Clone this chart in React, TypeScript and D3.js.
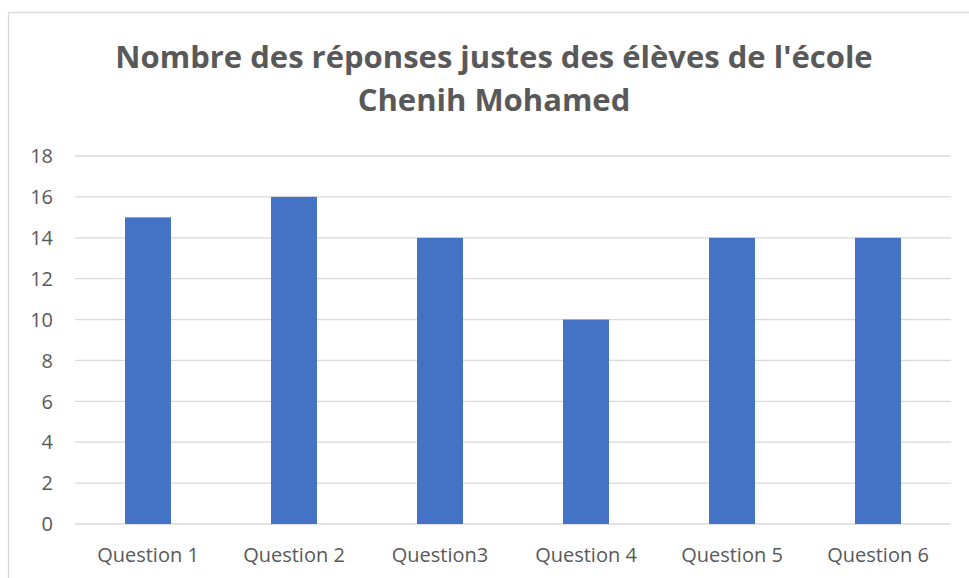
import React from 'react';
import * as d3 from 'd3';

const categories = ['Question 1', 'Question 2', 'Question3', 'Question 4', 'Question 5', 'Question 6'];
const values = [15, 16, 14, 10, 14, 14];
const yTicks = [0, 2, 4, 6, 8, 10, 12, 14, 16, 18];
const titleLines = ["Nombre des réponses justes des élèves de l'école", 'Chenih Mohamed'];

const W = 969, H = 578;
const plot = { left: 75, right: 951, top: 156, bottom: 524 };
const font = '"Open Sans", "Noto Sans", sans-serif';

export default function App() {
  const x = d3.scaleBand<string>()
    .domain(categories)
    .range([plot.left, plot.right])
    .paddingInner(0.685)
    .paddingOuter(0.3425);
  const y = d3.scaleLinear().domain([0, 18]).range([plot.bottom, plot.top]);

  return (
    <svg width={W} height={H} style={{ position: 'absolute', left: 0, top: 0 }}>
      <rect x={0} y={0} width={W} height={H} fill="#fff" />
      <rect x={8.5} y={12.5} width={W + 10} height={H + 10} fill="#fff" stroke="#d9d9d9" strokeWidth={1.3} />
      {titleLines.map((t, i) => (
        <text key={i} x={494} y={57 + i * 43} dy="0.36em" textAnchor="middle" fontFamily={font}
          fontWeight="bold" fontSize={31} fill="#595959">{t}</text>
      ))}
      {yTicks.map(t => (
        <g key={t}>
          <line x1={plot.left} x2={plot.right} y1={y(t)} y2={y(t)} stroke="#d9d9d9" strokeWidth={1.3} />
          <text x={53} y={y(t)} dy="0.36em" textAnchor="end" fontFamily={font} fontSize={20} fill="#595959">{t}</text>
        </g>
      ))}
      {categories.map((c, i) => (
        <rect key={c} x={x(c)} y={y(values[i])} width={x.bandwidth()} height={y(0) - y(values[i])} fill="#4472C4" />
      ))}
      {categories.map(c => (
        <text key={c} x={(x(c) as number) + x.bandwidth() / 2} y={555} dy="0.36em" textAnchor="middle"
          fontFamily={font} fontSize={20} fill="#595959">{c}</text>
      ))}
    </svg>
  );
}
